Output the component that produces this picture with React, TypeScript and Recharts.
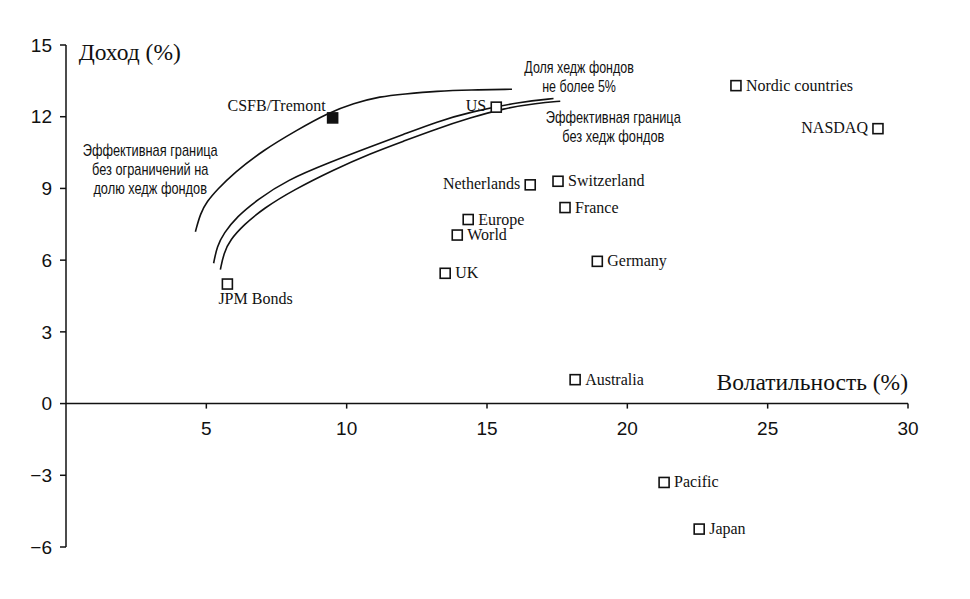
import React from 'react';
import {
  ComposedChart,
  Line,
  Scatter,
  XAxis,
  YAxis,
  ReferenceLine,
  ReferenceDot,
} from 'recharts';

// Assets: volatility (%) vs return (%)
const assetNames = [
  'JPM Bonds', 'US', 'Nordic countries', 'NASDAQ', 'Netherlands', 'Switzerland', 'France',
  'Europe', 'World', 'UK', 'Germany', 'Australia', 'Pacific', 'Japan',
];
const assetVol = [5.75, 15.33, 23.87, 28.93, 16.54, 17.53, 17.78, 14.33, 13.94, 13.51, 18.93, 18.14, 21.31, 22.56];
const assetRet = [5.0, 12.4, 13.3, 11.5, 9.15, 9.3, 8.2, 7.7, 7.05, 5.45, 5.95, 1.0, -3.3, -5.25];

const hedgeName = 'CSFB/Tremont';
const hedgeVol = 9.5;
const hedgeRet = 11.95;

// frontier without limits on hedge funds
const freeVol = [4.61, 4.79, 5.02, 5.38, 5.97, 7.04, 8.23, 9.3, 10.25, 11.2, 12.03, 13.22, 14.4, 15.89];
const freeRet = [7.19, 7.96, 8.45, 8.94, 9.64, 10.61, 11.44, 12.14, 12.56, 12.85, 12.95, 13.07, 13.12, 13.15];
// frontier with hedge funds capped at 5%
const capVol = [5.26, 5.38, 5.62, 6.09, 6.81, 7.87, 9.42, 10.84, 12.03, 13.22, 14.4, 16.18, 17.37];
const capRet = [5.87, 6.57, 7.13, 7.82, 8.52, 9.35, 10.1, 10.74, 11.26, 11.79, 12.2, 12.62, 12.76];
// frontier without hedge funds
const noneVol = [5.5, 5.62, 5.85, 6.33, 7.04, 8.11, 9.53, 10.84, 12.03, 13.22, 14.4, 15.59, 16.78, 17.61];
const noneRet = [5.6, 6.29, 6.85, 7.47, 8.17, 8.94, 9.78, 10.46, 10.98, 11.5, 11.95, 12.35, 12.56, 12.65];

const xTicks = [5, 10, 15, 20, 25, 30];
const yTicks = [-6, -3, 0, 3, 6, 9, 12, 15];

const assets = assetNames.map((name, i) => ({ name, x: assetVol[i], y: assetRet[i] }));
const hedge = [{ name: hedgeName, x: hedgeVol, y: hedgeRet }];
const toLine = (xs: number[], ys: number[]) => xs.map((x, i) => ({ x, y: ys[i] }));

const serif = "'Liberation Serif', 'Times New Roman', serif";
const sans = "'Liberation Sans', Arial, sans-serif";
const ink = '#111';

const leftLabels = ['US', 'NASDAQ', 'Netherlands'];

function AssetMark(props: any) {
  const { cx, cy, payload, filled } = props;
  const name = payload.name;
  const txt = { fontFamily: serif, fontSize: 16, fill: ink };
  let label;
  if (name === 'JPM Bonds') {
    label = <text x={cx - 9} y={cy + 20} {...txt}>{name}</text>;
  } else if (name === hedgeName) {
    label = <text x={cx - 7} y={cy - 7} textAnchor="end" {...txt}>{name}</text>;
  } else if (leftLabels.includes(name)) {
    label = <text x={cx - 10} y={cy + 4} textAnchor="end" {...txt}>{name}</text>;
  } else {
    label = <text x={cx + 10} y={cy + 5} {...txt}>{name}</text>;
  }
  return (
    <g>
      <rect x={cx - 5} y={cy - 5} width={10} height={10} fill={filled ? ink : '#fff'} stroke={ink} strokeWidth={1.6} />
      {label}
    </g>
  );
}

// multi-line annotation; `squeeze` narrows the glyphs like a condensed face
function Note(props: any) {
  const { viewBox, lines, font, size, anchor, squeeze = 1 } = props;
  const cx = viewBox.x + viewBox.width / 2;
  const cy = viewBox.y + viewBox.height / 2;
  return (
    <text
      transform={`translate(${cx},0) scale(${squeeze},1) translate(${-cx},0)`}
      x={cx}
      y={cy}
      textAnchor={anchor || 'middle'}
      fontFamily={font}
      fontSize={size}
      fill={ink}
    >
      {lines.map((l: string, i: number) => (
        <tspan key={i} x={cx} y={cy + i * 19} dominantBaseline="central">{l}</tspan>
      ))}
    </text>
  );
}

function XTickText(props: any) {
  const { viewBox, value } = props;
  const cx = viewBox.x + viewBox.width / 2;
  const cy = viewBox.y + viewBox.height / 2;
  return (
    <text x={cx} y={cy + 25} textAnchor="middle" dominantBaseline="central" fontFamily={sans} fontSize={19} fill={ink}>
      {value}
    </text>
  );
}

export default function App() {
  return (
    <div style={{ width: 962, height: 591, background: '#fff' }}>
      <ComposedChart width={962} height={591} margin={{ top: 37, right: 62, bottom: 52, left: 0 }}>
        <XAxis type="number" dataKey="x" domain={[0, 30]} hide allowDataOverflow />
        <YAxis
          type="number"
          dataKey="y"
          domain={[-6, 15]}
          ticks={yTicks}
          width={58}
          allowDataOverflow
          axisLine={{ stroke: ink, strokeWidth: 1.5 }}
          tickLine={{ stroke: ink, strokeWidth: 1.5 }}
          tickSize={6}
          tickMargin={8}
          tick={{ fill: ink, fontSize: 19, fontFamily: sans }}
          tickFormatter={(v: number) => String(v).replace('-', '\u2212')}
        />
        <ReferenceLine y={0} stroke={ink} strokeWidth={1.5} />
        {xTicks.map((t) => (
          <ReferenceLine
            key={'tl' + t}
            segment={[{ x: t, y: 0 }, { x: t, y: -0.21 }]}
            stroke={ink}
            strokeWidth={1.5}
          />
        ))}
        {xTicks.map((t) => (
          <ReferenceDot key={'tt' + t} x={t} y={0} r={1} fill="none" stroke="none" label={<XTickText value={t} />} />
        ))}

        <Line data={toLine(freeVol, freeRet)} dataKey="y" type="basis" dot={false} stroke={ink} strokeWidth={1.6} isAnimationActive={false} />
        <Line data={toLine(capVol, capRet)} dataKey="y" type="basis" dot={false} stroke={ink} strokeWidth={1.6} isAnimationActive={false} />
        <Line data={toLine(noneVol, noneRet)} dataKey="y" type="basis" dot={false} stroke={ink} strokeWidth={1.6} isAnimationActive={false} />

        <Scatter data={assets} shape={(p: any) => <AssetMark {...p} />} isAnimationActive={false} />
        <Scatter data={hedge} shape={(p: any) => <AssetMark {...p} filled />} isAnimationActive={false} />

        <ReferenceDot x={0.45} y={14.7} r={1} fill="none" stroke="none"
          label={<Note lines={['Доход (%)']} font={serif} size={23.5} anchor="start" />} />
        <ReferenceDot x={30} y={0.9} r={1} fill="none" stroke="none"
          label={<Note lines={['Волатильность (%)']} font={serif} size={23.5} anchor="end" />} />
        <ReferenceDot x={3.0} y={10.6} r={1} fill="none" stroke="none"
          label={<Note lines={['Эффективная граница', 'без ограничений на', 'долю хедж фондов']} font={sans} size={16} squeeze={0.8} />} />
        <ReferenceDot x={18.28} y={14.07} r={1} fill="none" stroke="none"
          label={<Note lines={['Доля хедж фондов', 'не более 5%']} font={sans} size={16} squeeze={0.78} />} />
        <ReferenceDot x={19.5} y={11.98} r={1} fill="none" stroke="none"
          label={<Note lines={['Эффективная граница', 'без хедж фондов']} font={sans} size={16} squeeze={0.8} />} />
      </ComposedChart>
    </div>
  );
}
